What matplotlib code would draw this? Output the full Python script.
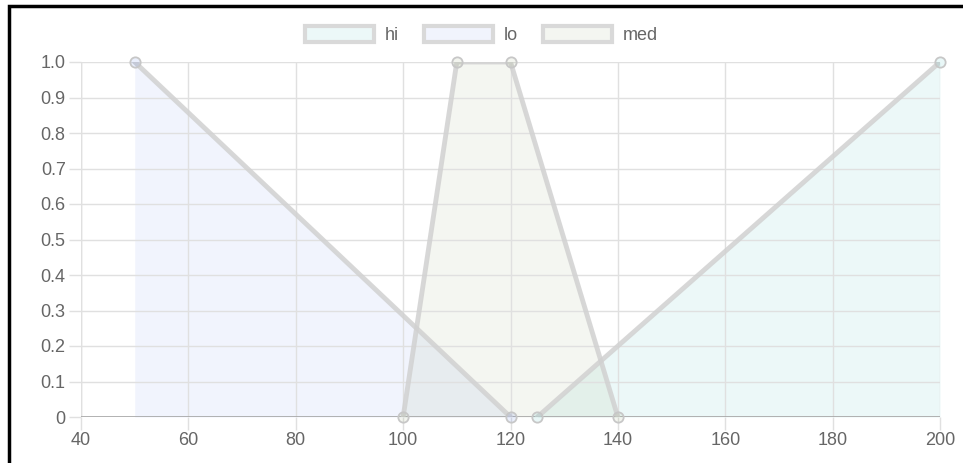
import matplotlib.pyplot as plt
from matplotlib.patches import Patch, Rectangle

plt.rcParams['font.family'] = ['Liberation Sans', 'DejaVu Sans']

# membership functions
hi_x = [125, 200]
hi_y = [0, 1]
lo_x = [50, 120]
lo_y = [1, 0]
med_x = [100, 110, 120, 140]
med_y = [0, 1, 1, 0]

series = [
    ("hi", hi_x, hi_y, (75/255, 192/255, 192/255), 0.1),
    ("lo", lo_x, lo_y, (80/255, 120/255, 230/255), 0.08),
    ("med", med_x, med_y, (150/255, 170/255, 120/255), 0.1),
]

fig = plt.figure(figsize=(9.63, 4.63), dpi=100)
ax = fig.add_axes([81/963, 46/463, 859/963, 355/463])

line_col = (0.82, 0.82, 0.82)
for name, xs, ys, col, a in series:
    ax.fill_between(xs, ys, 0, color=col, alpha=a, linewidth=0, zorder=1)
for name, xs, ys, col, a in series:
    ax.plot(xs, ys, color=line_col, lw=3.5, alpha=0.85, zorder=3,
            solid_capstyle='round')
    ax.scatter(xs, ys, s=55, facecolor=(*col, 0.12), edgecolor=(0.78, 0.78, 0.78),
               linewidth=1.3, zorder=4, clip_on=False)

ax.set_xlim(40, 200)
ax.set_ylim(0, 1)
ax.set_xticks(range(40, 201, 20))
ax.set_yticks([i / 10 for i in range(11)])
ax.set_yticklabels(['0'] + [f"{i/10:.1f}" for i in range(1, 11)])
ax.grid(True, color=(0.88, 0.88, 0.88), lw=1, zorder=0)
for s in ax.spines.values():
    s.set_visible(False)
ax.axhline(0, color=(0.65, 0.65, 0.65), lw=1.2, zorder=2)
ax.axvline(40, color=(0.86, 0.86, 0.86), lw=1, zorder=0)
ax.tick_params(colors=(0.88, 0.88, 0.88), labelcolor='#666666', labelsize=13,
               length=9, width=1)
ax.tick_params(axis='x', pad=2)
ax.tick_params(axis='y', pad=2)

handles = [Patch(facecolor=(*c, a), edgecolor=(0.85, 0.85, 0.85), linewidth=3)
           for _, _, _, c, a in series]
fig.legend(handles, [s[0] for s in series], loc='center', ncol=3,
           bbox_to_anchor=(0.5, 1 - 35/463), frameon=False, fontsize=13,
           labelcolor='#666666', handlelength=3.8, handleheight=1.0,
           columnspacing=1.4, handletextpad=0.6)

# black frame visible at top and left of the screenshot
fig.add_artist(Rectangle((9/963, -0.1), 1.2, 1.1 - 6/463, transform=fig.transFigure,
                         fill=False, edgecolor='black', lw=2.5))

fig.savefig("out.png", dpi=100)
